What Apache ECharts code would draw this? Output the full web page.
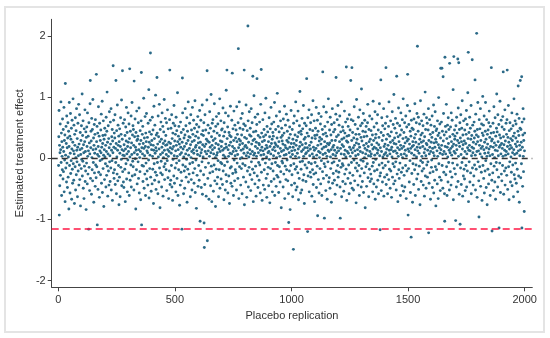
<!DOCTYPE html>
<html><head><meta charset="utf-8">
<script src="https://cdn.jsdelivr.net/npm/echarts@6/dist/echarts.min.js"></script>
<style>html,body{margin:0;padding:0;background:#fff}#c{width:550px;height:338px}</style>
</head><body><div id="c"></div>
<script>
const xTicks = [0, 500, 1000, 1500, 2000];
const yTicks = [-2, -1, 0, 1, 2];
const zeroLine = [0];
const actualEffect = [-1.157];
const xTitle = 'Placebo replication';
const yTitle = 'Estimated treatment effect';
const effect = [
-0.12,0.35,0.78,-0.93,0.21,-0.45,0.09,0.56,-0.28,0.14,0.92,-0.07,0.41,-0.61,0.27,0.03,-0.19,0.64,0.18,-0.34,
0.47,-0.22,0.11,0.83,-0.55,0.29,-0.03,0.38,-0.71,1.22,0.05,-0.16,0.52,0.24,-0.39,0.69,-0.08,0.17,-0.48,0.33,
0.58,-0.31,0.02,0.44,-0.83,0.19,0.91,-0.12,0.36,-0.57,0.08,0.73,-0.25,0.31,-0.04,0.49,-0.67,0.15,0.62,-0.18,
-0.41,0.26,0.97,-0.09,0.12,-0.36,0.54,0.07,-0.74,0.39,0.21,-0.14,0.66,-0.52,0.01,0.45,-0.27,0.81,0.13,-0.06,
0.32,-0.63,0.18,0.57,-0.21,0.04,0.88,-0.44,0.23,-0.11,0.71,-0.35,0.14,0.42,-0.78,0.06,0.29,-0.17,0.53,-0.02,
0.16,1.05,-0.29,0.37,-0.05,0.61,-0.49,0.22,0.09,-0.66,0.48,-0.13,0.27,0.79,-0.38,0.11,-0.21,0.43,-0.84,0.34,
-0.08,0.51,0.19,-0.42,0.74,0.03,-0.26,0.36,0.12,-1.16,0.58,-0.15,0.25,-0.53,0.07,0.89,1.27,-0.33,0.17,0.44,
0.28,-0.59,0.65,0.01,-0.19,0.47,-0.37,0.96,0.14,-0.07,0.33,-0.72,0.21,0.55,-0.24,0.08,0.39,-0.46,0.63,-0.11,
0.15,-0.32,1.37,0.27,-0.14,0.52,-1.09,0.06,0.41,-0.51,0.19,0.84,-0.23,0.03,0.36,-0.64,0.57,0.12,-0.04,0.29,
-0.27,0.46,0.09,0.72,-0.41,0.18,-0.02,0.93,-0.56,0.24,0.37,-0.17,0.61,0.05,-0.79,0.31,0.14,-0.35,0.49,0.02,
0.38,-0.09,0.21,-0.47,0.67,0.11,-0.28,0.44,1.08,-0.13,0.26,-0.62,0.07,0.53,-0.21,0.32,-0.44,0.17,0.76,-0.06,
0.04,-0.38,0.59,0.23,-0.16,0.81,-0.52,0.13,0.35,-0.04,0.47,-0.69,0.28,0.09,1.51,-0.24,0.62,0.18,-0.33,0.41,
-0.19,0.33,0.71,-0.43,0.16,-0.07,1.27,0.24,-0.58,0.45,0.02,-0.26,0.87,0.13,-0.37,0.54,0.21,-0.12,0.36,-0.76,
0.27,-0.31,0.48,0.08,-0.63,0.19,0.66,-0.15,0.39,-0.02,0.95,-0.45,0.14,0.31,1.43,-0.22,0.05,0.57,-0.39,0.12,
-0.48,0.22,0.04,0.63,-0.18,0.37,-0.71,0.15,0.51,-0.09,0.28,0.83,-0.34,0.07,0.42,-0.55,0.19,-0.03,0.74,0.26,
0.11,-0.24,0.56,-0.61,0.32,1.46,0.02,-0.36,0.44,0.17,-0.11,0.69,-0.47,0.25,0.06,0.91,-0.29,0.38,-0.05,0.53,
-0.14,0.47,0.21,-0.52,1.26,0.09,0.35,-0.27,0.64,-0.01,0.18,-0.83,0.42,0.13,-0.19,0.77,0.29,-0.42,0.06,0.31,
0.36,-0.06,0.58,-0.33,0.14,0.82,-0.57,0.23,0.01,-0.22,0.45,0.11,-0.68,0.29,0.61,1.40,-1.09,0.17,-0.12,0.39,
0.07,0.52,-0.38,0.24,-0.13,0.98,0.16,-0.49,0.33,0.04,-0.26,0.68,0.19,-0.61,0.41,-0.08,0.27,0.73,-0.34,0.12,
-0.21,0.34,0.09,-0.44,0.57,0.18,-0.03,1.12,-0.65,0.26,0.43,-0.17,0.05,0.62,1.72,-0.31,0.22,-0.54,0.39,0.14,
0.29,-0.42,0.67,0.03,-0.18,0.46,0.21,-0.74,0.13,0.85,-0.09,0.32,-0.36,0.54,0.08,-0.23,1.03,0.17,-0.51,0.38,
0.12,-0.28,1.32,0.41,-0.07,0.23,-0.58,0.69,0.02,0.35,-0.39,0.15,0.88,-0.16,0.27,-0.81,0.47,0.06,-0.24,0.59,
-0.05,0.31,-0.47,0.18,0.74,-0.27,0.09,0.52,-0.62,0.24,0.01,0.43,-0.14,0.96,0.13,-0.35,0.28,-0.09,0.65,0.21,
0.37,-0.19,0.06,0.58,-0.53,0.22,-0.04,0.79,0.14,-0.32,0.48,0.03,-0.66,0.26,0.11,-0.21,0.63,1.44,-0.43,0.17,
0.24,-0.36,0.49,0.08,-0.12,0.71,-0.47,0.32,0.15,-0.69,0.41,-0.02,0.57,0.19,-0.29,0.86,0.04,-0.41,0.28,0.53,
-0.16,0.39,0.12,-0.55,0.67,0.21,-0.08,0.45,-0.33,0.03,1.07,0.27,-0.61,0.14,0.36,-0.19,0.52,-0.04,0.23,-0.77,
0.31,0.06,-0.44,0.59,0.18,-0.23,0.42,0.09,-0.37,-1.16,0.26,1.31,0.74,-0.11,0.15,0.47,-0.58,0.02,0.33,-0.21,
0.19,-0.49,0.38,0.81,-0.14,0.07,0.53,-0.31,0.24,-0.02,0.66,-0.72,0.13,0.44,-0.18,0.29,0.92,-0.39,0.05,0.35,
-0.26,0.16,0.57,-0.09,0.34,-0.63,0.22,0.71,0.01,-0.35,0.46,0.11,-0.52,0.27,0.83,-0.07,0.39,-0.24,0.14,0.62,
0.08,-0.41,0.29,0.49,-0.17,0.94,-0.56,0.18,0.36,-0.03,0.21,-0.82,0.55,0.12,-0.28,0.43,0.06,0.68,-0.46,0.25,
0.33,-0.12,0.51,-0.36,0.17,0.78,0.04,-1.03,0.26,-0.21,0.62,0.09,-0.48,0.39,0.14,-0.06,0.87,-0.59,0.22,0.45,
0.02,0.37,-0.27,0.58,-1.06,-1.46,0.19,-0.43,0.71,0.11,-0.15,0.46,0.23,-0.62,0.31,0.07,0.95,1.43,-1.35,0.28,
-0.33,0.54,0.12,-0.08,0.41,-0.67,0.26,0.03,0.76,-0.24,0.18,0.49,-0.45,0.09,1.04,-0.13,0.35,-0.71,0.21,0.57,
0.14,-0.22,0.63,0.29,-0.54,0.07,0.44,-0.11,0.89,0.17,-0.37,0.32,0.01,-0.79,0.52,0.24,-0.18,0.68,0.05,-0.42,
0.41,0.09,-0.31,0.56,-0.04,0.22,-0.63,0.73,0.15,-0.19,0.37,0.97,-0.49,0.11,0.28,-0.07,0.61,-0.34,0.19,0.46,
-0.09,0.27,0.48,-0.43,0.13,0.82,-0.21,0.05,0.36,-0.68,0.58,0.16,-0.12,0.43,0.02,-0.52,0.74,0.23,-0.27,1.11,
0.18,-0.38,1.44,0.32,-0.06,0.51,-0.57,0.14,0.69,0.03,-0.29,0.42,0.21,-0.74,0.37,0.08,-0.16,0.85,0.26,-0.41,
0.35,-0.14,0.07,0.62,-0.46,1.39,0.19,-0.25,0.48,0.11,-0.61,0.29,0.77,-0.03,0.16,-0.37,0.54,0.04,-0.19,0.33,
-0.23,0.46,0.12,-0.52,0.84,0.27,-0.08,0.39,0.06,-0.33,0.58,1.79,0.17,-0.66,0.31,0.92,-0.14,0.22,0.49,-0.01,
0.28,-0.44,0.65,0.13,-0.17,0.38,0.01,-0.58,0.73,0.24,-0.09,0.47,0.15,-0.31,0.56,0.08,1.44,-0.76,0.34,0.19,
-0.12,0.53,0.21,-0.39,0.87,0.04,0.32,-0.64,0.17,0.45,-0.21,0.09,2.16,0.61,-0.47,0.26,0.02,-0.15,0.76,0.38,
0.14,-0.27,0.49,0.07,-0.53,0.36,0.81,-0.06,0.23,-0.35,0.58,0.11,-0.18,1.34,0.29,-0.71,0.43,0.05,1.02,-0.24,
0.31,0.08,-0.42,0.67,0.19,-0.13,0.44,-0.62,0.26,0.03,0.55,1.30,-0.29,0.16,0.72,-0.48,0.37,0.09,-0.07,0.24,
-0.36,0.22,0.59,-0.11,0.34,-0.57,0.13,0.88,0.05,1.45,-0.23,0.41,0.18,-0.69,0.27,-0.02,0.63,0.12,-0.44,0.35,
0.06,0.47,-0.19,0.29,-0.51,0.74,0.15,-0.08,0.38,0.98,-0.33,0.21,0.02,-0.64,0.52,0.17,-0.26,0.43,0.09,-0.15,
0.27,-0.45,0.11,0.66,-0.02,0.35,-0.73,0.19,0.48,-0.17,0.07,0.83,-0.38,0.24,0.56,-0.09,0.31,-0.55,0.14,0.42,
-0.21,0.36,0.04,0.59,-0.34,0.18,0.91,-0.61,0.25,0.12,-0.07,0.47,0.22,-0.46,0.69,0.01,-0.28,0.33,1.06,-0.12,
0.19,-0.31,0.52,0.08,-0.56,0.27,0.43,-0.14,0.76,0.03,-0.39,0.16,0.61,-0.22,0.34,-0.81,0.11,0.49,-0.05,0.28,
0.37,-0.08,0.23,-0.47,0.64,0.13,-0.26,0.41,0.05,0.85,-0.66,0.21,-0.13,0.54,0.17,-0.35,0.06,0.72,-0.19,0.29,
-0.03,0.44,0.15,-0.37,0.62,0.26,-0.58,-1.05,0.33,0.09,-0.21,0.51,0.18,-0.84,0.39,0.02,-0.12,0.78,0.24,-0.44,
0.12,-0.27,0.47,0.06,-0.63,0.31,0.18,-1.49,0.57,-0.09,0.24,0.69,-0.41,0.13,0.38,-0.18,0.03,0.92,-0.52,0.21,
0.29,-0.14,0.61,-0.47,0.08,0.35,-0.24,0.77,0.15,-0.68,0.42,0.01,-0.33,0.53,0.19,1.09,-0.06,0.26,-0.57,0.44,
-0.18,0.39,0.11,-0.52,0.65,0.22,-0.05,0.48,-0.36,0.14,0.86,0.03,-0.27,0.31,-0.74,0.57,0.17,-0.11,0.34,0.07,
0.24,-0.38,0.53,0.09,1.30,-0.16,0.41,0.17,-1.20,0.66,-0.29,0.12,0.36,-0.07,0.79,-0.55,0.21,0.04,0.47,-0.23,
0.15,0.58,-0.31,0.26,-0.09,0.71,-0.62,0.33,0.07,-0.19,0.45,0.94,-0.43,0.18,0.02,-0.26,0.61,0.13,-0.71,0.37,
-0.07,0.32,0.49,-0.24,0.16,0.83,-0.48,0.05,0.38,-0.13,0.62,-0.94,0.21,0.44,-0.35,0.11,0.73,-0.57,0.28,0.01,
0.34,-0.17,0.09,0.56,-0.42,0.23,0.68,-0.04,0.31,-0.61,0.15,0.47,-0.22,1.41,0.06,0.39,-0.33,0.84,0.18,-0.09,
-0.98,0.27,0.52,-0.14,0.08,0.41,-0.53,0.19,0.75,-0.28,0.36,0.03,-0.67,0.24,0.59,-0.06,0.13,0.97,-0.39,0.22,
0.11,-0.32,0.46,0.25,-0.49,0.67,0.02,-0.17,0.38,0.14,-0.72,0.55,0.29,-0.08,0.81,-0.41,0.18,0.06,-0.25,0.43,
0.21,-0.06,0.58,-0.36,0.13,0.47,-0.59,0.29,0.04,0.72,1.32,-0.21,0.35,0.09,-0.44,0.63,0.17,-0.12,0.86,-0.31,
0.38,0.12,-0.23,0.54,-0.04,0.27,0.69,-0.47,-0.98,0.16,0.43,-0.15,0.07,0.92,-0.63,0.31,0.22,-0.09,0.51,-0.38,
-0.12,0.45,0.19,-0.54,0.33,0.06,0.77,-0.26,0.41,0.13,-0.42,0.59,0.02,-0.18,1.49,0.28,-0.69,0.36,0.11,0.64,
0.26,-0.33,0.52,0.08,-0.11,0.37,-0.58,0.71,0.18,-0.24,0.46,0.03,-0.41,1.27,0.14,0.63,-0.07,0.29,1.48,-0.49,
0.09,0.42,-0.28,0.61,0.17,-0.52,0.33,-0.03,0.84,0.21,-0.37,0.12,0.55,-0.16,0.04,0.39,-0.73,0.25,0.96,-0.08,
0.31,-0.21,0.14,0.48,-0.44,0.06,0.67,0.23,-0.12,0.39,-0.61,0.18,0.79,-0.29,0.11,0.53,-0.03,0.34,-0.47,1.13,
-0.17,0.28,0.57,-0.38,0.09,0.44,-0.05,0.73,-0.56,0.21,0.35,-0.24,0.01,0.62,0.16,-0.81,0.43,0.07,-0.14,0.52,
0.24,-0.46,0.36,0.13,-0.09,0.58,0.88,-0.32,0.19,0.04,-0.63,0.47,0.27,-0.18,0.69,0.11,-0.38,0.31,0.03,-0.26,
0.45,0.07,-0.34,0.22,0.64,-0.13,0.38,-0.55,0.15,0.93,-0.07,0.29,-0.42,0.51,0.18,-0.21,0.05,0.76,-0.67,0.33,
-0.02,0.39,0.16,-0.47,0.57,0.25,-0.19,0.08,0.71,-0.36,0.13,0.46,-0.58,0.22,0.34,-0.11,0.89,0.04,-0.29,-1.17,
0.17,-0.24,1.28,0.42,-0.53,0.11,0.66,-0.08,0.29,-0.39,0.53,0.02,-0.16,0.37,0.81,-0.62,0.19,0.06,-0.31,0.48,
0.23,-0.12,0.57,0.09,1.48,-0.43,0.31,0.15,-0.27,0.68,0.04,-0.58,0.39,0.21,-0.06,0.52,-0.35,0.92,0.13,-0.18,
0.36,0.07,-0.49,0.26,0.61,-0.21,0.14,0.43,-0.64,0.18,0.02,0.76,-0.31,0.29,-0.09,0.55,0.11,-0.42,1.04,0.24,
-0.14,0.33,0.49,-0.37,0.12,0.65,-0.06,0.23,-0.52,0.41,1.34,0.08,-0.26,0.57,0.17,-0.71,0.35,0.03,0.82,-0.19,
0.27,-0.33,0.14,0.53,-0.08,0.38,-0.61,0.21,0.74,0.06,-0.23,0.46,0.16,-0.45,0.63,0.01,-0.16,0.32,0.97,-0.54,
0.19,0.42,-0.28,0.07,0.58,-0.47,0.25,0.13,-0.12,0.69,0.34,-0.66,0.04,0.51,-0.21,0.28,0.86,1.37,0.15,-0.93,
0.31,-0.17,0.55,0.11,-0.39,0.23,0.77,-0.04,0.44,-0.56,0.16,0.36,-1.29,0.62,0.08,-0.25,0.49,0.19,-0.72,0.27,
-0.09,0.47,0.21,-0.43,0.64,0.05,0.33,-0.19,0.89,0.14,-0.61,0.39,0.26,-0.11,0.58,0.02,-0.34,0.73,0.18,1.83,
0.12,-0.26,0.44,0.67,-0.51,0.23,0.08,-0.13,0.56,0.31,-0.76,0.17,0.94,-0.04,0.38,-0.38,0.26,0.61,0.03,-0.21,
0.41,-0.07,0.19,0.53,-0.44,0.28,-0.17,0.72,0.09,-0.62,0.35,0.15,1.08,-0.29,0.47,0.04,-0.49,0.24,0.66,-0.11,
0.22,0.57,-0.31,0.13,-0.06,0.46,0.81,-1.22,0.29,-0.41,0.07,0.63,0.18,-0.24,0.39,-0.67,0.11,0.54,0.26,-0.15,
-0.03,0.34,0.69,-0.48,0.16,0.42,-0.22,0.09,0.87,-0.57,0.25,0.04,0.52,-0.36,0.18,0.76,-0.14,0.31,-0.78,0.45,
0.26,-0.19,0.48,0.12,-0.42,0.61,0.03,0.37,-0.66,0.22,0.99,-0.09,0.41,0.17,-0.31,0.56,0.08,-0.53,0.33,1.47,
0.14,-0.36,0.59,0.21,1.47,-0.12,0.44,0.06,-0.49,1.33,0.28,0.73,-0.23,0.11,0.38,-0.58,-1.03,1.65,0.19,0.52,
0.07,-0.27,0.43,0.88,-0.14,0.32,-0.61,0.18,0.54,0.02,-0.39,0.66,0.24,-0.07,0.47,0.13,-0.52,1.55,0.35,0.09,
-0.22,0.51,0.16,-0.44,0.74,0.27,0.05,-0.31,0.62,0.19,-0.08,0.39,1.12,-0.68,0.23,1.66,0.11,-0.17,0.46,0.31,
0.36,0.08,-0.26,-1.02,0.53,0.21,-0.47,0.67,0.14,0.41,-0.11,0.29,1.62,-0.38,0.82,0.03,1.56,0.25,-0.59,0.47,
0.19,0.58,-1.08,0.33,-0.16,0.71,0.06,-0.43,0.27,0.49,-0.07,0.94,0.15,-0.62,0.38,0.22,-0.29,0.61,0.01,-0.18,
0.28,-0.34,0.46,0.11,-0.53,0.64,0.24,-0.12,0.39,0.78,-0.47,0.07,0.55,-0.21,0.17,1.07,0.32,1.73,-0.71,0.13,
0.42,-0.06,0.21,0.67,-0.39,0.12,0.49,-0.24,0.31,0.86,-0.58,0.04,0.37,0.18,1.61,-0.16,0.54,0.09,-0.44,0.26,
0.16,-0.29,0.59,0.33,-0.11,0.44,1.28,0.05,-0.52,0.72,0.23,-0.18,0.38,2.04,0.11,-0.64,0.47,0.27,0.91,-0.06,
0.35,0.12,-0.37,-0.96,0.63,0.21,-0.14,0.48,0.07,0.81,-0.46,0.29,0.16,-0.23,0.56,0.02,-0.69,0.41,0.19,1.01,
-0.12,0.37,0.54,-0.33,0.14,0.69,-0.57,0.26,0.08,-0.21,0.44,0.91,-0.04,0.31,-0.48,0.17,0.63,0.03,-0.76,0.39,
0.23,-0.18,0.46,0.09,-0.42,0.58,0.15,0.77,-0.27,0.34,0.04,-0.61,0.52,0.19,-0.09,0.41,1.48,0.28,-0.36,-1.19,
0.31,0.06,-0.24,0.57,0.18,-0.53,0.42,0.84,-0.13,0.25,0.01,-0.39,0.66,0.13,-0.67,0.36,0.21,-0.07,0.49,1.05,
-0.19,0.43,0.12,-0.47,0.71,0.27,0.04,-0.31,0.55,-1.14,0.18,0.38,-0.08,0.93,0.21,-0.56,0.33,0.07,0.62,-0.26,
0.24,-0.37,0.51,0.16,-0.12,0.68,0.03,1.41,0.35,-0.59,0.22,0.47,-0.21,0.13,0.79,-0.44,0.28,0.05,-0.16,0.57,
0.11,0.39,-0.28,0.63,1.44,0.19,-0.51,0.34,0.07,0.86,-0.14,0.26,-0.68,0.45,0.15,-0.06,0.58,0.21,-0.39,0.32,
0.02,0.48,-0.23,0.17,0.74,-0.45,0.29,0.09,-0.11,0.53,0.36,-0.63,0.14,0.97,-0.27,0.41,0.06,-0.34,0.61,0.23,
-0.08,0.33,0.56,-0.41,0.19,0.08,0.72,-0.18,0.27,-0.55,0.44,1.18,0.12,-0.29,0.37,0.65,-0.72,0.21,0.04,0.49,
1.27,0.14,-0.32,0.47,0.26,-0.09,1.33,-1.14,0.59,0.18,-0.46,0.38,0.81,0.03,-0.22,0.29,0.64,-0.87,0.12,0.41
];
const replication = effect.map((_, i) => i + 1);
const points = effect.map((v, i) => [replication[i], v]);

const font = 'Liberation Sans, Arial, sans-serif';
const axisColor = '#444';
const chart = echarts.init(document.getElementById('c'), null, {renderer: 'canvas'});
chart.setOption({
  animation: false,
  graphic: [{
    type: 'rect', silent: true, z: -10,
    shape: {x: 5, y: 7, width: 539, height: 325},
    style: {fill: 'none', stroke: '#e4e4e4', lineWidth: 2}
  }],
  grid: {left: 51.7, right: 17.7, top: 19.3, bottom: 50.7},
  xAxis: {
    type: 'value', min: -28.5, max: 2032.6,
    name: xTitle, nameLocation: 'middle', nameGap: 17,
    nameTextStyle: {fontSize: 11, color: '#333', fontFamily: font},
    axisLine: {onZero: false, lineStyle: {color: axisColor, width: 1}},
    axisTick: {show: true, length: 4, customValues: xTicks, lineStyle: {color: axisColor}},
    axisLabel: {customValues: xTicks, fontSize: 11, color: '#333', margin: 7, fontFamily: font,
      formatter: v => String(v)},
    splitLine: {show: false}
  },
  yAxis: {
    type: 'value', min: -2.11, max: 2.27,
    name: yTitle, nameLocation: 'middle', nameGap: 19,
    nameTextStyle: {fontSize: 11, color: '#333', fontFamily: font},
    axisLine: {onZero: false, lineStyle: {color: axisColor, width: 1}},
    axisTick: {show: true, length: 4, customValues: yTicks, lineStyle: {color: axisColor}},
    axisLabel: {customValues: yTicks, fontSize: 11, color: '#333', margin: 6, fontFamily: font,
      formatter: v => String(v)},
    splitLine: {show: false}
  },
  series: [{
    type: 'scatter',
    data: points,
    symbol: 'circle',
    symbolSize: 2.9,
    itemStyle: {color: '#2b6a88', opacity: 1},
    markLine: {
      silent: true, symbol: ['none', 'none'], label: {show: false}, animation: false,
      data: [
        {yAxis: zeroLine[0], lineStyle: {color: '#333333', type: [6, 4], width: 1.3}},
        {yAxis: actualEffect[0], lineStyle: {color: '#ff1744', type: [7, 4], width: 1.6}}
      ]
    }
  }]
});
</script>
</body></html>
